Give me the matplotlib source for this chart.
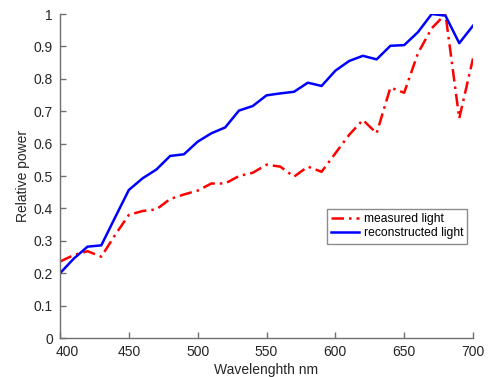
import matplotlib
matplotlib.use("Agg")
import matplotlib.pyplot as plt
import matplotlib.transforms as mtransforms
import numpy as np

wavelength = list(range(400, 701, 10))
measured = [0.236, 0.256, 0.268, 0.251, 0.318, 0.380, 0.392, 0.397, 0.429, 0.443,
            0.455, 0.477, 0.477, 0.500, 0.510, 0.535, 0.529, 0.498, 0.529, 0.513,
            0.570, 0.627, 0.673, 0.632, 0.773, 0.757, 0.879, 0.956, 1.000, 0.678,
            0.863]
reconstructed = [0.200, 0.245, 0.282, 0.286, 0.372, 0.457, 0.493, 0.520, 0.562, 0.567,
                 0.606, 0.632, 0.650, 0.702, 0.716, 0.749, 0.755, 0.760, 0.788, 0.778,
                 0.825, 0.855, 0.871, 0.860, 0.902, 0.904, 0.944, 1.000, 0.995, 0.910,
                 0.964]
xticks = [400, 450, 500, 550, 600, 650, 700]
yticks = [0, 0.1, 0.2, 0.3, 0.4, 0.5, 0.6, 0.7, 0.8, 0.9, 1]
ytick_labels = ["0", "0.1", "0.2", "0.3", "0.4", "0.5", "0.6", "0.7", "0.8", "0.9", "1"]

plt.rcParams['font.family'] = ['Liberation Sans', 'DejaVu Sans']

fig = plt.figure(figsize=(4.89, 3.77), dpi=100)
ax = fig.add_axes([0.1227, 0.1034, 0.8446, 0.8594])

ax.plot(wavelength, measured, color='#FF0000', lw=1.8, linestyle=(0, (5, 2, 1, 2)),
        label='measured light')
ax.plot(wavelength, reconstructed, color='#0000FF', lw=1.8, label='reconstructed light')

ax.set_xlim(400, 700)
ax.set_ylim(0, 1)
ax.set_xticks(xticks)
ax.set_yticks(yticks)
ax.set_yticklabels(ytick_labels)

gray = '#707070'
for s in ['top', 'right']:
    ax.spines[s].set_visible(False)
for s in ['left', 'bottom']:
    ax.spines[s].set_color(gray)
    ax.spines[s].set_linewidth(1.0)
ax.tick_params(direction='in', length=4, width=1.0, color=gray, labelcolor='#262626',
               labelsize=10, pad=5)

# first x tick label nudged right, as in the reference
first = ax.get_xticklabels()[0]
first.set_transform(first.get_transform() +
                    mtransforms.ScaledTranslation(7 / 100, 0, fig.dpi_scale_trans))

ax.set_xlabel('Wavelenghth nm', fontsize=10, color='#262626', labelpad=3)
ax.set_ylabel('Relative power', fontsize=10, color='#262626', labelpad=3)

leg = ax.legend(loc='upper left', bbox_to_anchor=(0.646, 0.399), fontsize=8.7,
                frameon=True, fancybox=False, edgecolor=gray, handlelength=2.3,
                borderpad=0.35, labelspacing=0.2, handletextpad=0.4, borderaxespad=0)
leg.get_frame().set_linewidth(1.0)

fig.savefig('out.png', dpi=100)
